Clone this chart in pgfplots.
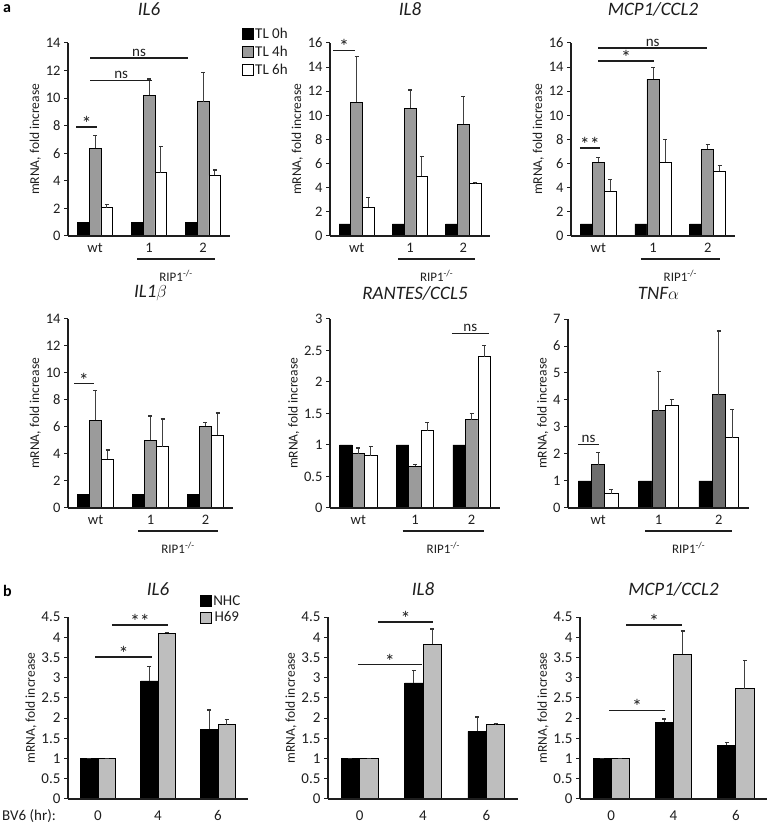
\documentclass[border=0pt]{standalone}
\usepackage{pgfplots}
\pgfplotsset{compat=1.18}
\usepackage{fontspec}
\setmainfont{Carlito}
\definecolor{ga}{RGB}{155,155,155}
\definecolor{gt}{RGB}{110,110,110}
\definecolor{gb}{RGB}{190,190,190}
\definecolor{ax}{RGB}{30,30,30}
\pgfplotsset{
  base/.style={
    scale only axis,
    axis x line*=bottom, axis y line*=left,
    axis line style={line width=1.3pt, ax},
    axis on top,
    ybar=0pt,
    xmin=-0.5, xmax=2.5, ymin=0,
    xtick={0,1,2},
    xtick style={draw=none},
    ytick style={line width=1pt, ax},
    tick align=outside, major tick length=4pt,
    tick label style={font=\fontsize{14.5}{15}\selectfont, text=ax},
    /pgf/number format/assume math mode=true,
    ylabel={mRNA, fold increase},
    ylabel style={font=\fontsize{13.5}{14}\selectfont, text=ax, yshift=-2pt},
    title style={font=\fontsize{19}{20}\selectfont\itshape, text=ax, at={(0.5,1)}, anchor=center, yshift=28pt},
    clip=false,
  },
  aset/.style={base, bar width=0.22, xticklabels={wt,1,2}},
  bset/.style={base, bar width=0.29, xticklabels={0,4,6}, ymax=4.5, ytick={0,0.5,...,4.5},
     tick label style={font=\fontsize{15}{16}\selectfont, text=ax},
     xticklabel style={yshift=-4pt}, title style={yshift=-6pt}},
  eb/.style={error bars/.cd, y dir=plus, y explicit,
     error bar style={line width=0.9pt, black!75},
     error mark options={rotate=90, mark size=2pt, line width=1.4pt, black!80}},
  sq/.style={legend image code/.code={\draw[##1] (0pt,-5.5pt) rectangle (11pt,5.5pt);}},
  blk/.style={fill=black, draw=black, line width=0.7pt, sq},
  gry/.style={fill=ga, draw=black, line width=0.7pt, sq, eb},
  gryd/.style={fill=gt, draw=black, line width=0.7pt, sq, eb},
  wht/.style={fill=white, draw=black, line width=0.7pt, sq, eb},
  grb/.style={fill=gb, draw=black, line width=0.7pt, sq, eb},
  blkb/.style={fill=black, draw=black, line width=0.7pt, sq, eb},
}
\tikzset{
  sig/.style={line width=1.4pt, ax},
  st/.style={font=\fontsize{15}{15}\selectfont, text=ax, inner sep=1pt},
  ss/.style={font=\fontsize{20}{20}\selectfont, text=ax, inner sep=0pt, yshift=-4pt},
}
\newcommand{\rip}{%
  \draw[line width=1.3pt, ax] ([yshift=-23pt]axis cs:0.78,0) -- ([yshift=-23pt]axis cs:2.22,0);
  \node[font=\fontsize{13}{14}\selectfont, text=ax] at ([yshift=-40pt]axis cs:1.5,0) {RIP1\textsuperscript{-/-}};}
\begin{document}
\begin{tikzpicture}
\path[use as bounding box] (0,0) rectangle (768pt,824pt);
\node[anchor=west, inner sep=0pt, font=\fontsize{16}{17}\selectfont\bfseries] at (3pt,815pt) {a};
\node[anchor=west, inner sep=0pt, font=\fontsize{16}{17}\selectfont\bfseries] at (3pt,233pt) {b};
\node[anchor=west, inner sep=0pt, font=\fontsize{15}{16}\selectfont, text=ax] at (2pt,8pt) {BV6 (hr):};

% ---- IL6 (a)
\begin{axis}[aset, at={(68pt,588pt)}, anchor=south west, width=162pt, height=193pt,
  ymax=14, ytick={0,2,...,14}, title={IL6},
  legend style={at={(rel axis cs:1.07,1.09)}, anchor=north west, draw=none, fill=none,
    font=\fontsize{15}{16}\selectfont, row sep=2pt, inner sep=0pt, nodes={inner sep=2pt, text=ax}}]
\addplot[blk] coordinates {(0,1) (1,1) (2,1)};
\addplot[gry] coordinates {(0,6.35) +- (0,0.95) (1,10.2) +- (0,1.2) (2,9.75) +- (0,2.1)};
\addplot[wht] coordinates {(0,2.05) +- (0,0.25) (1,4.6) +- (0,1.9) (2,4.4) +- (0,0.4)};
\legend{TL 0h, TL 4h, TL 6h}
\draw[sig] (axis cs:-0.35,7.9) -- (axis cs:0.04,7.9) node[midway, above, ss] {*};
\draw[sig] (axis cs:-0.09,11.3) -- (axis cs:1.06,11.3) node[midway, above, st] {ns};
\draw[sig] (axis cs:-0.09,12.9) -- (axis cs:1.72,12.9) node[midway, above, st] {ns};
\rip
\end{axis}

% ---- IL8 (a)
\begin{axis}[aset, at={(330pt,588pt)}, anchor=south west, width=160pt, height=193pt,
  ymax=16, ytick={0,2,...,16}, title={IL8}]
\addplot[blk] coordinates {(0,1) (1,1) (2,1)};
\addplot[gry] coordinates {(0,11.1) +- (0,3.8) (1,10.6) +- (0,1.5) (2,9.25) +- (0,2.3)};
\addplot[wht] coordinates {(0,2.4) +- (0,0.8) (1,4.95) +- (0,1.65) (2,4.35) +- (0,0.1)};
\draw[sig] (axis cs:-0.44,15.4) -- (axis cs:-0.03,15.4) node[midway, above, ss] {*};
\rip
\end{axis}

% ---- MCP1 (a)
\begin{axis}[aset, at={(571pt,588pt)}, anchor=south west, width=164pt, height=193pt,
  ymax=16, ytick={0,2,...,16}, title={MCP1/CCL2}]
\addplot[blk] coordinates {(0,1) (1,1) (2,1)};
\addplot[gry] coordinates {(0,6.1) +- (0,0.4) (1,13.0) +- (0,0.95) (2,7.2) +- (0,0.4)};
\addplot[wht] coordinates {(0,3.7) +- (0,1.0) (1,6.1) +- (0,1.9) (2,5.35) +- (0,0.5)};
\draw[sig] (axis cs:-0.34,7.3) -- (axis cs:0.03,7.3) node[midway, above, ss] {**};
\draw[sig] (axis cs:0.0,14.5) -- (axis cs:1.02,14.5) node[midway, above, ss] {*};
\draw[sig] (axis cs:0.0,15.6) -- (axis cs:1.99,15.6) node[midway, above, st] {ns};
\rip
\end{axis}

% ---- IL1b (a)
\begin{axis}[aset, at={(68pt,316pt)}, anchor=south west, width=165pt, height=189pt,
  ymax=14, ytick={0,2,...,14}, title={IL1$\beta$}, title style={yshift=-8pt}]
\addplot[blk] coordinates {(0,1) (1,1) (2,1)};
\addplot[gry] coordinates {(0,6.5) +- (0,2.2) (1,5.0) +- (0,1.8) (2,6.05) +- (0,0.3)};
\addplot[wht] coordinates {(0,3.6) +- (0,0.7) (1,4.55) +- (0,2.05) (2,5.4) +- (0,1.65)};
\draw[sig] (axis cs:-0.39,9.2) -- (axis cs:-0.03,9.2) node[midway, above, ss] {*};
\rip
\end{axis}

% ---- RANTES (a)
\begin{axis}[aset, at={(330pt,316pt)}, anchor=south west, width=170pt, height=189pt,
  ymax=3, ytick={0,0.5,...,3}, title={RANTES/CCL5}, title style={yshift=-8pt}]
\addplot[blk] coordinates {(0,1) (1,1) (2,1)};
\addplot[gry] coordinates {(0,0.86) +- (0,0.09) (1,0.66) +- (0,0.03) (2,1.4) +- (0,0.1)};
\addplot[wht] coordinates {(0,0.83) +- (0,0.15) (1,1.23) +- (0,0.13) (2,2.4) +- (0,0.18)};
\draw[sig] (axis cs:1.65,2.77) -- (axis cs:2.30,2.77) node[midway, above, st] {ns};
\rip
\end{axis}

% ---- TNFa (a)
\begin{axis}[aset, at={(568pt,316pt)}, anchor=south west, width=181pt, height=189pt,
  ymax=7, ytick={0,1,...,7}, title={TNF$\alpha$}, title style={yshift=-8pt}]
\addplot[blk] coordinates {(0,1) (1,1) (2,1)};
\addplot[gryd] coordinates {(0,1.6) +- (0,0.45) (1,3.6) +- (0,1.45) (2,4.2) +- (0,2.35)};
\addplot[wht] coordinates {(0,0.53) +- (0,0.15) (1,3.8) +- (0,0.22) (2,2.6) +- (0,1.05)};
\draw[sig] (axis cs:-0.33,2.36) -- (axis cs:0.01,2.36) node[midway, above, st] {ns};
\rip
\end{axis}

% ---- IL6 (b)
\begin{axis}[bset, at={(68pt,25pt)}, anchor=south west, width=180pt, height=182pt,
  title={IL6},
  legend style={at={(rel axis cs:0.73,1.13)}, anchor=north west, draw=none, fill=none,
    font=\fontsize{15}{16}\selectfont, row sep=1pt, inner sep=0pt, nodes={inner sep=2pt, text=ax}}]
\addplot[blkb] coordinates {(0,1) +- (0,0) (1,2.92) +- (0,0.35) (2,1.73) +- (0,0.47)};
\addplot[grb] coordinates {(0,1) +- (0,0) (1,4.1) +- (0,0.02) (2,1.84) +- (0,0.13)};
\legend{NHC, H69}
\draw[sig] (axis cs:-0.05,3.51) -- (axis cs:0.9,3.51) node[midway, above, ss] {*};
\draw[sig] (axis cs:0.23,4.3) -- (axis cs:1.17,4.3) node[midway, above, ss] {**};
\end{axis}

% ---- IL8 (b)
\begin{axis}[bset, at={(328pt,25pt)}, anchor=south west, width=190pt, height=182pt,
  title={IL8}]
\addplot[blkb] coordinates {(0,1) +- (0,0) (1,2.87) +- (0,0.3) (2,1.67) +- (0,0.36)};
\addplot[grb] coordinates {(0,1) +- (0,0) (1,3.83) +- (0,0.37) (2,1.85) +- (0,0.01)};
\draw[sig] (axis cs:-0.03,3.32) -- (axis cs:0.98,3.32) node[midway, above, ss] {*};
\draw[sig] (axis cs:0.29,4.38) -- (axis cs:1.16,4.38) node[midway, above, ss] {*};
\end{axis}

% ---- MCP1 (b)
\begin{axis}[bset, at={(580pt,25pt)}, anchor=south west, width=187pt, height=182pt,
  title={MCP1/CCL2}]
\addplot[blkb] coordinates {(0,1) +- (0,0) (1,1.9) +- (0,0.08) (2,1.33) +- (0,0.07)};
\addplot[grb] coordinates {(0,1) +- (0,0) (1,3.58) +- (0,0.57) (2,2.73) +- (0,0.69)};
\draw[sig] (axis cs:-0.03,2.19) -- (axis cs:0.86,2.19) node[midway, above, ss] {*};
\draw[sig] (axis cs:0.24,4.3) -- (axis cs:1.14,4.3) node[midway, above, ss] {*};
\end{axis}
\end{tikzpicture}
\end{document}
